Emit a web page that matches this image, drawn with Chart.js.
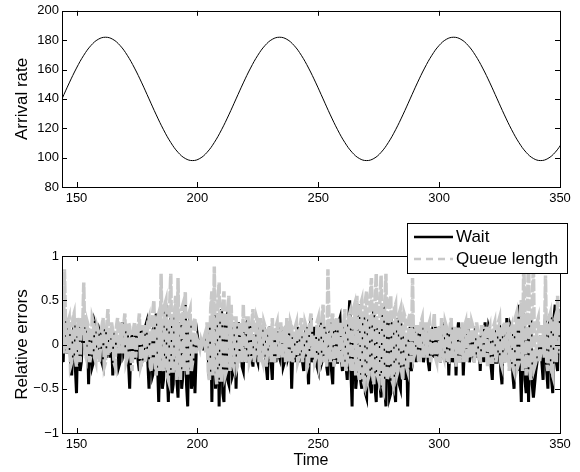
<!DOCTYPE html>
<html>
<head>
<meta charset="utf-8">
<script src="https://cdn.jsdelivr.net/npm/chart.js@4.4.0/dist/chart.umd.min.js"></script>
<style>
  body { margin: 0; background: #fff; }
  #wrap { position: relative; width: 580px; height: 472px; }
  canvas { position: absolute; left: 0; }
  #rateChart { top: 0; }
  #errChart { top: 215px; }
</style>
</head>
<body>
<div id="wrap">
  <canvas id="rateChart" width="580" height="215"></canvas>
  <canvas id="errChart" width="580" height="257"></canvas>
</div>
<script>
// x ticks shared by both panels
const timeTicks = [150, 200, 250, 300, 350];
const timeMin = 144, timeMax = 350;

// top panel: arrival rate, read every 3 time units starting at t=144
const rateStart = 144, rateStep = 3;
const arrivalRate = [
  140, 150.9, 161, 169.7, 176.4, 180.6, 182, 180.6, 176.4, 169.7, 161, 150.9,
  140, 129.1, 119, 110.3, 103.6, 99.4, 98, 99.4, 103.6, 110.3, 119, 129.1,
  140, 150.9, 161, 169.7, 176.4, 180.6, 182, 180.6, 176.4, 169.7, 161, 150.9,
  140, 129.1, 119, 110.3, 103.6, 99.4, 98, 99.4, 103.6, 110.3, 119, 129.1,
  140, 150.9, 161, 169.7, 176.4, 180.6, 182, 180.6, 176.4, 169.7, 161, 150.9,
  140, 129.1, 119, 110.3, 103.6, 99.4, 98, 99.4, 103.6, 110.3
];
const rateTicks = [80, 100, 120, 140, 160, 180, 200];

// bottom panel: relative errors, two readings per time unit starting at t=144
const errStart = 144, errStep = 0.5;
const waitErr = [
  0.05, -0.2, 0.3, 0.1, -0.1, 0.2, 0.15, -0.15, -0.35, 0.05, 0.3, -0.25, -0.55, 0.1, 0.2, -0.3, -0.2, 0.1, 0.25, -0.05,
  -0.1, 0.2, -0.45, 0.05, 0.15, -0.25, -0.2, 0.25, 0.2, -0.1, -0.05, 0.15, 0.1, -0.2, -0.25, 0.1, 0.2, -0.15, 0.0, 0.15,
  -0.15, 0.1, -0.35, 0.0, 0.15, -0.1, 0.05, -0.25, -0.2, 0.15, 0.25, -0.1, -0.05, 0.1, 0.2, -0.2, -0.5, 0.05, 0.1, -0.15,
  -0.15, 0.15, 0.0, -0.2, -0.3, 0.1, 0.2, -0.15, -0.1, 0.2, 0.25, -0.2, -0.5, 0.05, 0.1, -0.35, -0.3, 0.2, 0.35, -0.2,
  -0.65, -0.1, 0.2, -0.5, -0.4, 0.3, 0.45, -0.3, -0.65, 0.1, 0.3, -0.55, -0.45, 0.2, 0.4, -0.4, -0.6, 0.15, 0.25, -0.5,
  -0.35, 0.2, 0.45, -0.45, -0.7, 0.2, 0.3, -0.5, -0.4, 0.1, -0.55, -0.1, 0.1, 0.0, 0.0, 0.05, 0.05, -0.05, -0.05, 0.05,
  0.1, -0.15, -0.4, 0.3, -0.65, 0.2, 0.45, -0.5, -0.3, 0.35, -0.7, 0.1, 0.4, -0.55, -0.65, 0.25, 0.3, -0.4, -0.45, 0.2,
  0.2, -0.35, -0.3, 0.25, -0.5, 0.1, 0.25, -0.2, 0.1, -0.25, -0.3, 0.15, 0.2, -0.2, -0.1, 0.25, 0.15, -0.15, -0.25, 0.1,
  0.1, -0.15, -0.2, 0.2, 0.15, -0.1, 0.0, 0.2, -0.1, -0.25, -0.4, 0.1, 0.2, -0.2, -0.4, 0.15, 0.05, -0.2, 0.15, -0.1,
  -0.15, 0.2, 0.1, -0.25, -0.2, 0.15, 0.25, -0.15, -0.1, 0.2, -0.5, -0.05, 0.1, -0.2, 0.05, 0.2, -0.2, -0.1, 0.15, -0.2,
  -0.3, 0.1, 0.2, -0.2, -0.45, 0.15, 0.3, -0.2, -0.1, 0.2, 0.05, -0.25, -0.3, 0.15, 0.2, -0.2, -0.15, 0.2, 0.1, -0.25,
  -0.35, 0.1, 0.25, -0.3, -0.45, 0.2, 0.15, -0.2, -0.2, 0.25, 0.3, -0.15, -0.3, 0.2, 0.1, -0.25, -0.4, 0.2, 0.5, -0.3,
  -0.7, 0.1, 0.2, -0.5, -0.35, 0.3, 0.45, -0.4, -0.5, 0.25, 0.35, -0.55, -0.6, 0.2, 0.3, -0.45, -0.55, 0.25, 0.4, -0.5,
  -0.65, 0.15, 0.25, -0.45, -0.6, 0.3, 0.35, -0.5, -0.7, 0.2, 0.3, -0.6, -0.55, 0.25, 0.2, -0.5, -0.65, 0.1, 0.3, -0.45,
  -0.5, 0.2, 0.15, -0.3, -0.4, 0.1, -0.7, -0.1, 0.2, -0.3, -0.2, 0.15, 0.1, -0.2, 0.05, 0.2, -0.15, -0.05, 0.2, -0.2,
  -0.1, 0.2, 0.05, -0.2, -0.3, 0.1, 0.15, -0.15, 0.0, 0.2, -0.15, -0.05, 0.2, -0.2, -0.1, 0.15, 0.25, -0.2, -0.05, 0.15,
  -0.35, 0.05, 0.2, -0.2, -0.1, 0.15, -0.35, 0.1, 0.25, -0.2, -0.05, 0.2, -0.35, 0.0, 0.15, -0.15, 0.2, -0.2, -0.1, 0.15,
  0.05, -0.2, 0.2, -0.05, -0.15, 0.1, -0.3, 0.05, 0.1, -0.2, 0.25, -0.1, -0.1, 0.2, 0.15, -0.25, -0.4, 0.05, 0.1, -0.2,
  -0.2, 0.15, 0.2, -0.3, -0.45, 0.1, 0.05, -0.2, 0.3, -0.1, -0.2, 0.2, 0.15, -0.35, -0.5, 0.1, 0.2, -0.3, 0.45, -0.2,
  -0.65, 0.2, 0.35, -0.4, -0.55, 0.15, -0.65, 0.2, 0.3, -0.45, -0.6, -0.45, -0.3, -0.2, -0.1, 0.0, 0.1, -0.2, -0.4, 0.2,
  0.3, -0.3, -0.5, 0.2, 0.35, -0.4, -0.55, 0.3, 0.45, -0.2, -0.3, 0.35, 0.4
];
const queueErr = [
  0.4, -0.1, 0.85, 0.2, -0.1, 0.25, 0.3, -0.25, -0.2, 0.3, 0.35, -0.15, -0.25, 0.3, 0.1, -0.2, 0.3, 0.1, 0.7, -0.1,
  -0.15, 0.25, 0.2, -0.2, -0.1, 0.3, 0.25, -0.15, -0.2, 0.2, 0.15, -0.2, 0.0, 0.2, 0.3, -0.25, -0.2, 0.2, 0.4, -0.1,
  -0.1, 0.25, 0.15, -0.2, -0.25, 0.2, 0.3, -0.1, 0.05, 0.25, -0.1, 0.2, 0.35, -0.2, -0.15, 0.25, 0.2, -0.15, -0.3, 0.15,
  0.25, -0.15, 0.1, 0.2, 0.35, -0.25, -0.2, 0.2, 0.2, -0.2, -0.1, 0.25, 0.3, -0.25, -0.3, 0.35, 0.5, -0.2, -0.35, 0.3,
  0.35, -0.3, 0.8, -0.2, -0.3, 0.45, 0.5, -0.35, -0.4, 0.4, 0.8, -0.3, -0.3, 0.35, 0.55, -0.4, 0.75, -0.25, -0.4, 0.4,
  0.45, -0.3, 0.6, -0.2, -0.35, 0.35, 0.4, -0.3, -0.2, 0.25, 0.3, -0.1, 0.05, 0.0, -0.05, 0.05, 0.0, 0.05, 0.1, -0.1,
  0.25, -0.3, -0.4, 0.4, 0.6, -0.35, 0.88, -0.3, -0.45, 0.5, 0.7, -0.4, -0.4, 0.45, 0.6, -0.35, -0.3, 0.4, 0.55, -0.3,
  0.45, -0.2, -0.25, 0.3, 0.3, -0.25, -0.2, 0.25, 0.2, -0.2, 0.45, -0.15, -0.2, 0.3, 0.3, -0.2, -0.15, 0.25, 0.4, -0.2,
  -0.1, 0.3, 0.25, -0.2, 0.3, -0.15, -0.2, 0.25, 0.2, -0.25, -0.1, 0.2, 0.1, -0.2, 0.3, -0.1, -0.2, 0.2, 0.25, -0.15,
  0.05, 0.25, -0.15, 0.1, 0.2, -0.2, 0.3, -0.1, -0.2, 0.25, 0.2, -0.2, -0.1, 0.2, 0.25, -0.2, -0.15, 0.2, 0.3, -0.2,
  -0.05, 0.25, 0.2, -0.25, -0.2, 0.25, 0.35, -0.15, 0.1, -0.2, -0.15, 0.25, 0.3, -0.25, -0.2, 0.3, 0.45, -0.2, 0.1, -0.25,
  0.85, 0.2, -0.2, 0.25, 0.35, -0.25, -0.15, 0.3, 0.3, -0.2, 0.1, 0.25, -0.25, 0.2, 0.4, -0.3, -0.2, 0.3, 0.35, -0.3,
  -0.3, 0.4, 0.45, -0.35, 0.55, -0.3, -0.4, 0.45, 0.5, -0.4, -0.45, 0.5, 0.6, -0.4, -0.35, 0.55, 0.75, -0.35, -0.45, 0.5,
  0.8, -0.35, -0.4, 0.5, 0.78, -0.45, -0.5, 0.45, 0.8, -0.4, -0.35, 0.5, 0.55, -0.4, -0.45, 0.4, 0.45, -0.35, -0.3, 0.35,
  0.4, -0.3, -0.4, 0.35, 0.3, -0.25, -0.3, 0.3, 0.35, -0.2, 0.75, -0.15, -0.1, 0.2, 0.2, -0.2, -0.2, 0.25, 0.3, -0.15,
  0.1, 0.25, -0.15, 0.2, 0.25, -0.2, -0.1, 0.2, 0.35, -0.15, -0.2, 0.2, 0.15, -0.2, 0.3, -0.1, -0.15, 0.25, 0.2, -0.2,
  -0.2, 0.2, 0.3, -0.15, 0.05, 0.2, -0.25, 0.15, 0.2, -0.2, 0.1, 0.25, -0.2, 0.2, 0.25, -0.2, 0.3, -0.1, -0.15, 0.25,
  0.2, -0.2, -0.1, 0.25, 0.15, -0.2, -0.2, 0.2, 0.2, -0.15, 0.1, 0.2, -0.25, 0.15, 0.2, -0.2, -0.2, 0.2, 0.25, -0.2,
  -0.1, 0.25, 0.3, -0.2, -0.25, 0.2, 0.25, -0.2, 0.1, 0.25, -0.3, 0.15, 0.2, -0.25, -0.3, 0.3, 0.35, -0.25, -0.2, 0.35,
  0.5, -0.3, 0.95, 0.3, -0.35, 0.4, 1.0, -0.3, -0.4, 0.45, 0.9, -0.25, -0.2, 0.25, 0.3, -0.2, -0.1, 0.2, 0.2, -0.15,
  0.78, -0.2, -0.3, 0.3, 0.35, -0.3, -0.35, 0.25, 0.3, -0.2, 0.55, 0.2, -0.1
];
const errTicks = [-1, -0.5, 0, 0.5, 1];
const errTickLabels = ['\u22121', '\u22120.5', '0', '0.5', '1'];

const FONT = "'Liberation Sans', Arial, Helvetica, sans-serif";

function toPoints(values, start, step) {
  return values.map((v, i) => ({ x: start + i * step, y: v }));
}

// MATLAB style box with inward ticks on all four sides
const framePlugin = {
  id: 'frame',
  afterDraw(chart) {
    const { ctx, chartArea: a, scales } = chart;
    const len = 5;
    ctx.save();
    ctx.strokeStyle = '#000';
    ctx.lineWidth = 1;
    ctx.beginPath();
    scales.x.ticks.forEach(t => {
      const px = Math.round(scales.x.getPixelForValue(t.value)) + 0.5;
      ctx.moveTo(px, a.bottom); ctx.lineTo(px, a.bottom - len);
      ctx.moveTo(px, a.top); ctx.lineTo(px, a.top + len);
    });
    scales.y.ticks.forEach(t => {
      const py = Math.round(scales.y.getPixelForValue(t.value)) + 0.5;
      ctx.moveTo(a.left, py); ctx.lineTo(a.left + len, py);
      ctx.moveTo(a.right, py); ctx.lineTo(a.right - len, py);
    });
    ctx.stroke();
    ctx.strokeRect(Math.round(a.left) + 0.5, Math.round(a.top) + 0.5,
      Math.round(a.right - a.left), Math.round(a.bottom - a.top));
    ctx.restore();
  }
};

// legend box sitting over the top right corner of the lower panel
const boxLegend = {
  id: 'boxLegend',
  afterDraw(chart) {
    const { ctx, chartArea: a } = chart;
    const left = a.right - 153, top = a.top - 33, w = 160, h = 50;
    ctx.save();
    ctx.fillStyle = '#fff';
    ctx.fillRect(left, top, w, h);
    ctx.strokeStyle = '#000';
    ctx.lineWidth = 1;
    ctx.strokeRect(left + 0.5, top + 0.5, w, h);
    ctx.font = '17px ' + FONT;
    ctx.textBaseline = 'middle';
    ctx.fillStyle = '#000';
    chart.data.datasets.forEach((ds, i) => {
      const y = top + 14 + i * 22;
      ctx.beginPath();
      ctx.strokeStyle = ds.borderColor;
      ctx.lineWidth = 2.5;
      ctx.setLineDash(ds.legendDash || []);
      ctx.moveTo(left + 7, y);
      ctx.lineTo(left + 46, y);
      ctx.stroke();
      ctx.setLineDash([]);
      ctx.fillText(ds.label, left + 49, y);
    });
    ctx.restore();
  }
};

function timeAxis(withTitle, height) {
  return {
    type: 'linear',
    min: timeMin,
    max: timeMax,
    afterBuildTicks: s => { s.ticks = timeTicks.map(v => ({ value: v })); },
    afterFit: s => { s.height = height; },
    grid: { display: false, drawTicks: false },
    border: { display: false },
    ticks: { color: '#000', padding: 4, autoSkip: false, maxRotation: 0, font: { family: FONT, size: 13 } },
    title: {
      display: withTitle, text: 'Time', color: '#000',
      font: { family: FONT, size: 16 }, padding: { top: 0, bottom: 2 }
    }
  };
}

function yTitle(text) {
  return {
    display: true, text: text, color: '#000',
    font: { family: FONT, size: 17 }, padding: { top: 12, bottom: 0 }
  };
}

const rateCtx = document.getElementById('rateChart').getContext('2d');
new Chart(rateCtx, {
  type: 'line',
  data: {
    datasets: [{
      label: 'Arrival rate',
      data: toPoints(arrivalRate, rateStart, rateStep),
      borderColor: '#000',
      borderWidth: 1,
      pointRadius: 0,
      tension: 0.4
    }]
  },
  options: {
    responsive: false,
    animation: false,
    devicePixelRatio: 1,
    layout: { padding: { top: 10, right: 20, left: 0, bottom: 0 } },
    plugins: { legend: { display: false }, tooltip: { enabled: false } },
    scales: {
      x: timeAxis(false, 28),
      y: {
        min: 80, max: 200,
        afterBuildTicks: s => { s.ticks = rateTicks.map(v => ({ value: v })); },
        afterFit: s => { s.width = 62; },
        grid: { display: false, drawTicks: false },
        border: { display: false },
        ticks: { color: '#000', padding: 3, font: { family: FONT, size: 13 } },
        title: yTitle('Arrival rate')
      }
    }
  },
  plugins: [framePlugin]
});

const errCtx = document.getElementById('errChart').getContext('2d');
new Chart(errCtx, {
  type: 'line',
  data: {
    datasets: [{
      label: 'Wait',
      data: toPoints(waitErr, errStart, errStep),
      borderColor: '#000',
      borderWidth: 3,
      pointRadius: 0,
      tension: 0,
      order: 2
    }, {
      label: 'Queue length',
      data: toPoints(queueErr, errStart, errStep),
      borderColor: '#c8c8c8',
      borderWidth: 3.5,
      borderDash: [12, 2],
      legendDash: [7, 5],
      pointRadius: 0,
      tension: 0,
      order: 1
    }]
  },
  options: {
    responsive: false,
    animation: false,
    devicePixelRatio: 1,
    layout: { padding: { top: 41, right: 20, left: 0, bottom: 0 } },
    plugins: { legend: { display: false }, tooltip: { enabled: false } },
    scales: {
      x: timeAxis(true, 39),
      y: {
        min: -1, max: 1,
        afterBuildTicks: s => { s.ticks = errTicks.map(v => ({ value: v })); },
        afterFit: s => { s.width = 62; },
        grid: { display: false, drawTicks: false },
        border: { display: false },
        ticks: {
          color: '#000', padding: 3, font: { family: FONT, size: 13 },
          callback: v => errTickLabels[errTicks.indexOf(v)]
        },
        title: yTitle('Relative errors')
      }
    }
  },
  plugins: [framePlugin, boxLegend]
});
</script>
</body>
</html>
